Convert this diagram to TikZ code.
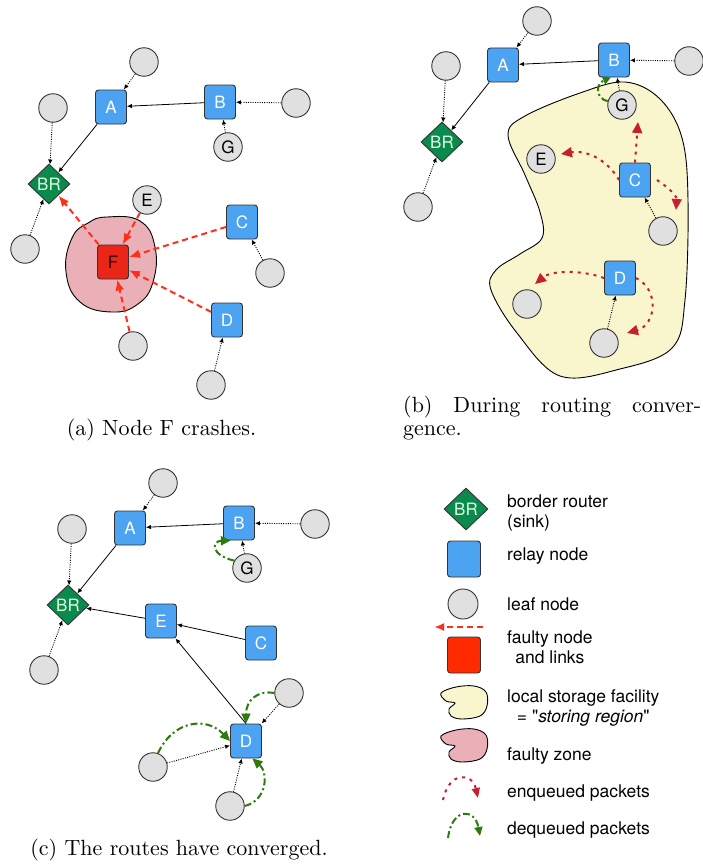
\documentclass[tikz,border=0pt]{standalone}
\usepackage{fontspec}
\newfontfamily\hv{TeX Gyre Heros}
\newfontfamily\capfont{lmroman10-regular}[Extension=.otf]
\usetikzlibrary{shapes.geometric,arrows.meta}
\definecolor{relayblue}{HTML}{4BA3F1}
\definecolor{brgreen}{HTML}{0A8A4C}
\definecolor{faultred}{HTML}{EA2619}
\definecolor{legred}{HTML}{FF2A00}
\definecolor{leafgray}{HTML}{E0E0E0}
\definecolor{storeyellow}{HTML}{F9F5CD}
\definecolor{zonepink}{HTML}{EBB0B7}
\definecolor{linkred}{HTML}{FF2F1A}
\definecolor{enqred}{HTML}{C81E2D}
\definecolor{deqgreen}{HTML}{2E7A0C}
\definecolor{edgegray}{HTML}{333333}
\begin{document}
\begin{tikzpicture}[x=1pt,y=-1pt,
 lbl/.style={font=\hv\fontsize{17}{20}\selectfont},
 leaf/.style={circle, minimum size=28.5pt, inner sep=0pt, fill=leafgray, draw=edgegray, line width=0.9pt, lbl},
 relay/.style={rectangle, rounded corners=3pt, minimum width=31pt, minimum height=34pt, inner sep=0pt, fill=relayblue, draw=edgegray, line width=0.9pt, text=white, lbl},
 faulty/.style={relay, fill=faultred, text=black!80!red},
 br/.style={diamond, minimum width=42pt, minimum height=40pt, inner sep=0pt, fill=brgreen, draw=edgegray, line width=0.9pt, text=white!88!green, lbl},
 route/.style={draw=black, line width=0.8pt, -{Latex[length=5pt,width=4.5pt]}},
 leafarr/.style={draw=black, line width=0.9pt, dash pattern=on 1pt off 1.3pt, -{Latex[length=5pt,width=4.5pt]}},
 faillink/.style={draw=linkred, line width=2pt, dash pattern=on 6pt off 4pt, -{Latex[length=11pt,width=9pt]}},
 enq/.style={draw=enqred, line width=2pt, dash pattern=on 3pt off 5pt, -{Triangle[length=11pt,width=10pt]}},
 deq/.style={draw=deqgreen, line width=2pt, dash pattern=on 7pt off 3pt on 2pt off 3pt, -{Triangle[length=10pt,width=9pt]}},
 blob/.style={draw=black, line width=0.9pt},
 capt/.style={font=\capfont\fontsize{22}{24}\selectfont, inner sep=0pt},
 legtxt/.style={font=\hv\fontsize{17.5}{20.5}\selectfont, anchor=west, inner sep=0pt}
]
\fill[white] (0,0) rectangle (702,867);
\useasboundingbox (0,0) rectangle (702,867);

% ================= panel (a) =================
\fill[zonepink, blob] plot[smooth cycle, tension=0.75] coordinates {(107,217) (140,221) (155,247) (153,282) (138,304) (112,312) (80,302) (66,272) (72,238) (88,223)};
\node[leaf] (aT) at (144,62) {};
\node[relay] (aA) at (111,107) {A};
\node[relay] (aB) at (220,102) {B};
\node[leaf] (aR) at (296,103) {};
\node[leaf] (aL) at (53,108) {};
\node[leaf] (aG) at (228,147) {G};
\node[br] (aBR) at (49,184) {BR};
\node[leaf] (aBL) at (25,249) {};
\node[leaf] (aE) at (147,200) {E};
\node[faulty] (aF) at (113,262) {F};
\node[relay] (aC) at (242,222) {C};
\node[leaf] (aCL) at (270,273) {};
\node[relay] (aD) at (227,320) {D};
\node[leaf] (aFL) at (133,346) {};
\node[leaf] (aDL) at (211,385) {};
\draw[leafarr] (aT) -- (aA);
\draw[route] (aB) -- (aA);
\draw[leafarr] (aR) -- (aB);
\draw[leafarr] (aG) -- (aB);
\draw[leafarr] (aL) -- (aBR);
\draw[route] (aA) -- (aBR);
\draw[leafarr] (aBL) -- (aBR);
\draw[leafarr] (aCL) -- (aC);
\draw[leafarr] (aDL) -- (aD);
\draw[faillink] (aF) -- (aBR);
\draw[faillink] (aE) -- (aF);
\draw[faillink] (aC) -- (aF);
\draw[faillink] (aD) -- (aF);
\draw[faillink] (aFL) -- (aF);
\node[capt, anchor=base] (capa) at (161.5,435) {(a) Node F crashes.};

% ================= panel (b) =================
\fill[storeyellow, blob] plot[smooth cycle, tension=0.6] coordinates {(508,135) (525,116) (580,93) (625,82) (660,99) (682,138) (688,200) (685,300) (672,348) (620,369) (560,376) (517,333) (491,290) (496,270) (520,254) (542,238) (540,212) (525,175)};
\node[leaf] (bT) at (537,21) {};
\node[relay] (bA) at (503,65) {A};
\node[relay] (bB) at (614,60) {B};
\node[leaf] (bR) at (689,61) {};
\node[leaf] (bL) at (446,66) {};
\node[br] (bBR) at (442,142) {BR};
\node[leaf] (bBL) at (418,207) {};
\node[leaf] (bG) at (622,105) {G};
\node[leaf] (bE) at (541,159) {E};
\node[relay] (bC) at (635,180) {C};
\node[leaf] (bCL) at (663,231) {};
\node[relay] (bD) at (620,278) {D};
\node[leaf] (bDL) at (527,304) {};
\node[leaf] (bDB) at (604,343) {};
\draw[leafarr] (bT) -- (bA);
\draw[route] (bB) -- (bA);
\draw[leafarr] (bR) -- (bB);
\draw[leafarr] (bL) -- (bBR);
\draw[route] (bA) -- (bBR);
\draw[leafarr] (bBL) -- (bBR);
\draw[leafarr] (bG.100) -- (bB.-80);
\draw[leafarr] (bCL) -- (bC);
\draw[leafarr] (bDB) -- (bD);
\draw[deq, -{Triangle[length=8pt,width=8pt]}] (bG.165) .. controls (596,99) and (595,84) .. (bB.-100);
\coordinate (bCup) at (638,122);
\coordinate (bCle) at (561,154);
\coordinate (bCri) at (676,210);
\coordinate (bDle) at (535,284);
\coordinate (bDri) at (627,333);
\draw[enq] (bC.north) -- (bCup);
\draw[enq] (bC.west) .. controls (606,158) and (585,150) .. (bCle);
\draw[enq] ([xshift=6pt]bC.east) .. controls (668,187) and (677,196) .. (bCri);
\draw[enq] (bD.west) .. controls (582,270) and (552,270) .. (bDle);
\draw[enq] (bD.east) .. controls (660,290) and (656,325) .. (bDri);
\node[capt, anchor=base west] (capb1) at (403,412) {\makebox[298pt][s]{(b) During routing conver-}};
\node[capt, anchor=base west] (capb2) at (403,435) {gence.};

% ================= panel (c) =================
\node[leaf] (cT) at (163,483) {};
\node[relay] (cA) at (130,528) {A};
\node[relay] (cB) at (239,523) {B};
\node[leaf] (cR) at (315,524) {};
\node[leaf] (cL) at (72,529) {};
\node[leaf] (cG) at (247,568) {G};
\node[br] (cBR) at (68,605) {BR};
\node[leaf] (cBL) at (44,670) {};
\node[relay] (cE) at (161,621) {E};
\node[relay] (cC) at (261,643) {C};
\node[relay] (cD) at (246,741) {D};
\node[leaf] (cDR) at (289,693) {};
\node[leaf] (cDL) at (153,767) {};
\node[leaf] (cDB) at (230,806) {};
\draw[leafarr] (cT) -- (cA);
\draw[route] (cB) -- (cA);
\draw[leafarr] (cR) -- (cB);
\draw[leafarr] (cG) -- (cB);
\draw[leafarr] (cL) -- (cBR);
\draw[route] (cA) -- (cBR);
\draw[leafarr] (cBL) -- (cBR);
\draw[route] (cE) -- (cBR);
\draw[route] (cC) -- (cE);
\draw[route] (cD.north) -- (cE);
\draw[leafarr] (cDR) -- (cD);
\draw[leafarr] (cDL) -- (cD);
\draw[leafarr] (cDB) -- (cD);
\draw[deq] (cG.150) .. controls (210,555) and (212,541) .. (cB.-115);
\draw[deq] (cDR.west) .. controls (258,690) and (246,700) .. (cD.north);
\draw[deq] (cDL.70) .. controls (172,722) and (205,715) .. (cD.west);
\draw[deq] (cDB.east) .. controls (268,800) and (268,772) .. (cD.-70);
\node[capt, anchor=base] (capc) at (179,855) {(c) The routes have converged.};

% ================= legend =================
\node[br, minimum width=44pt, minimum height=42pt] (lBR) at (466,509) {BR};
\node[relay, minimum width=33pt, minimum height=36pt] (lRelay) at (464,559) {};
\node[leaf, minimum size=30pt] (lLeaf) at (463,604) {};
\coordinate (lLinkS) at (483,627);
\coordinate (lLinkE) at (434,627);
\draw[faillink, -{Latex[length=10pt,width=8pt]}] (lLinkS) -- (lLinkE);
\node[faulty, fill=legred, minimum width=33pt, minimum height=36pt] (lF) at (464,655) {};
\fill[storeyellow, blob] plot[smooth cycle, tension=0.6] coordinates {(441,693) (456,687) (474,686) (486,692) (487,706) (480,716) (462,719) (451,716) (449,709) (455,703) (446,701)};
\fill[zonepink, blob] plot[smooth cycle, tension=0.6] coordinates {(441,736) (456,730) (474,729) (486,735) (487,749) (480,759) (462,762) (451,759) (449,752) (455,746) (446,744)};
\coordinate (lEnqS) at (443,800);
\coordinate (lEnqE) at (478,798);
\draw[enq, -{Triangle[length=10pt,width=8pt]}] (lEnqS) .. controls (449,771) and (472,772) .. (lEnqE);
\coordinate (lDeqS) at (448,838);
\coordinate (lDeqE) at (480,836);
\draw[deq, -{Triangle[length=9pt,width=8pt]}] (lDeqS) .. controls (452,807) and (475,808) .. (lDeqE);
\node[legtxt, align=left] (tBR) at (507,513) {border router\\(sink)};
\node[legtxt] (tRelay) at (507,556) {relay node};
\node[legtxt] (tLeaf) at (507,604) {leaf node};
\node[legtxt, align=center] (tF) at (507,647) {faulty node\\and links};
\node[legtxt, align=center] (tStore) at (507,708) {local storage facility\\= "\textit{storing region}"};
\node[legtxt] (tZone) at (507,756) {faulty zone};
\node[legtxt] (tEnq) at (507,793) {enqueued packets};
\node[legtxt] (tDeq) at (507,830) {dequeued packets};
\end{tikzpicture}
\end{document}
